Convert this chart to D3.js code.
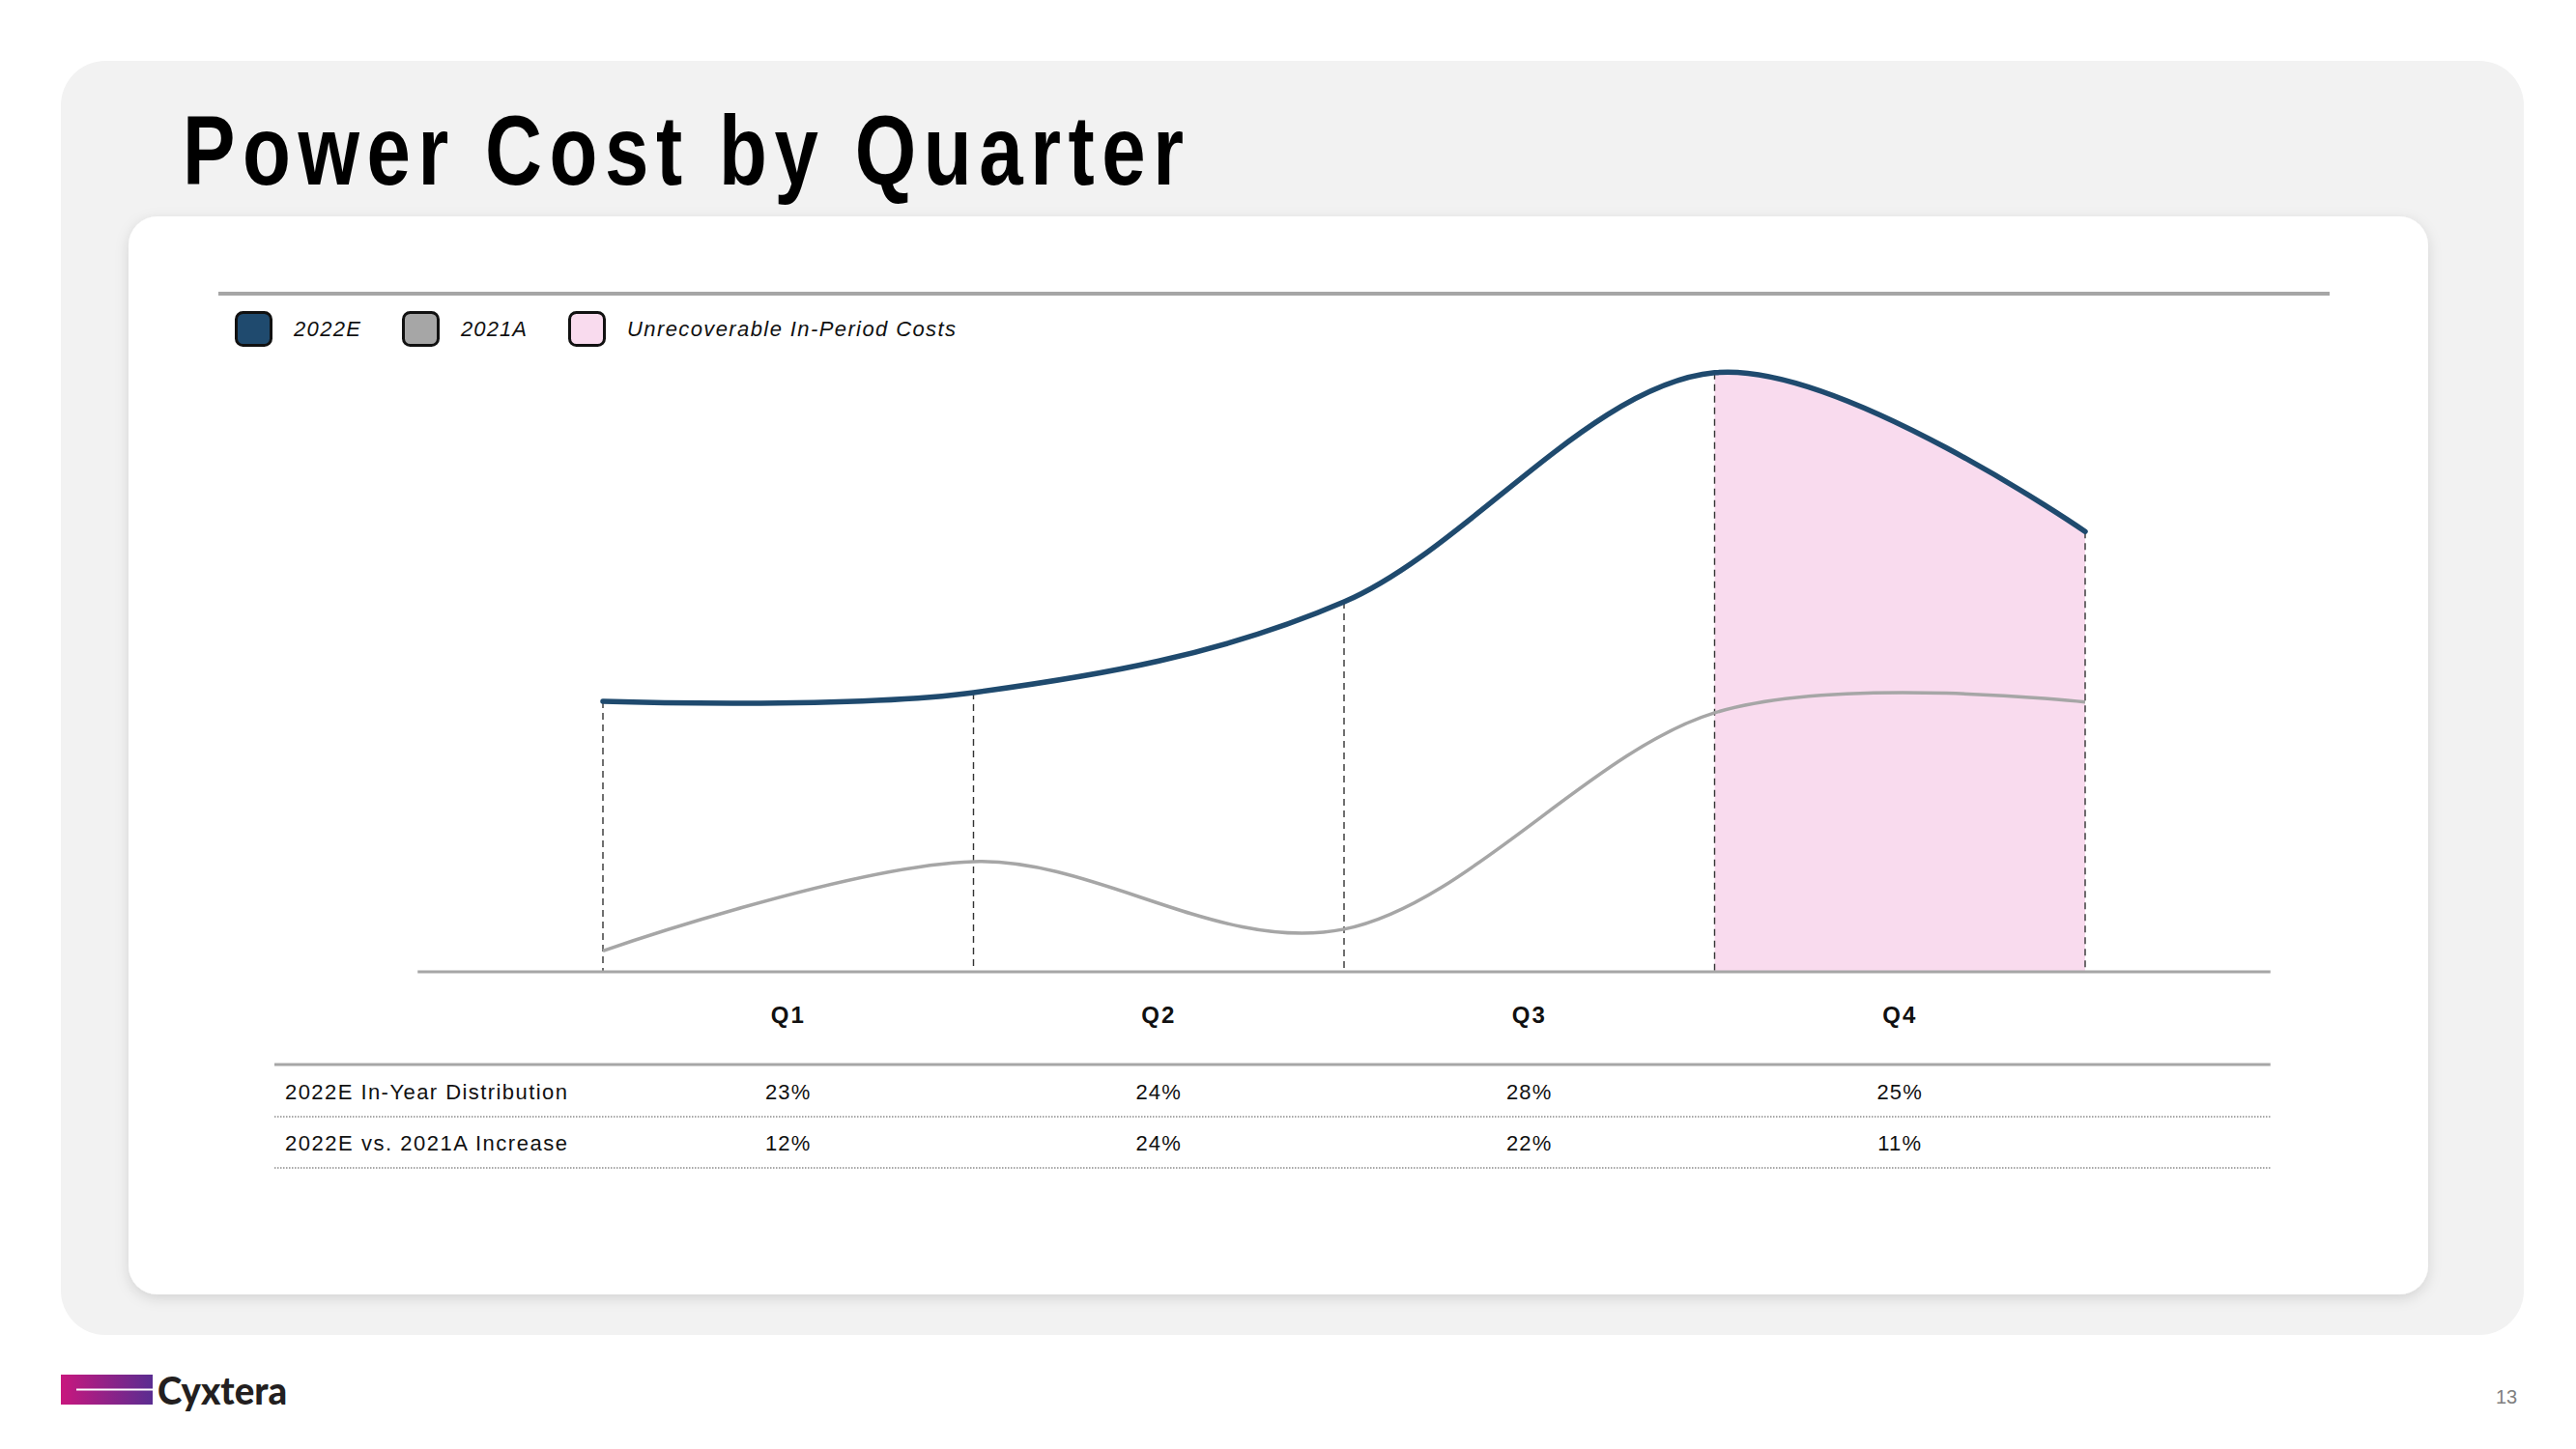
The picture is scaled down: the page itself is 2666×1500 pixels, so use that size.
<!DOCTYPE html>
<html><head><meta charset="utf-8">
<script src="https://cdn.jsdelivr.net/npm/d3@7"></script>
<style>
html,body{margin:0;padding:0;background:#fff;}
svg{display:block;}
text{font-family:"Liberation Sans",Arial,Helvetica,sans-serif;}
</style></head>
<body>
<svg id="chart" width="2666" height="1500"></svg>
<script>
// ---------------- data ----------------
const title = "Power Cost by Quarter";
const pointIndex = [0, 1, 2, 3, 4];               // quarter boundaries
const quarters = ["Q1", "Q2", "Q3", "Q4"];
const series2022E = [4.00, 4.13, 5.47, 8.86, 6.51];
const series2021A = [0.31, 1.63, 0.63, 3.83, 3.99];
const unrecoverableRange = [3, 4];                 // Q4 segment
const legendLabels = ["2022E", "2021A", "Unrecoverable In-Period Costs"];
const rowLabels = ["2022E In-Year Distribution", "2022E vs. 2021A Increase"];
const inYearDistribution = ["23%", "24%", "28%", "25%"];
const yoyIncrease = ["12%", "24%", "22%", "11%"];
const pageNumber = "13";
const brand = "Cyxtera";

// ---------------- style ----------------
const C = {navy:"#1f4a6e", gray:"#a6a6a6", pink:"#f9dbee", panel:"#f2f2f2"};

const svg = d3.select("#chart");
const defs = svg.append("defs");
const sh = defs.append("filter").attr("id","sh").attr("x","-5%").attr("y","-5%").attr("width","110%").attr("height","115%");
sh.append("feDropShadow").attr("dx",0).attr("dy",4).attr("stdDeviation",7).attr("flood-color","#000").attr("flood-opacity",0.13);
const grad = defs.append("linearGradient").attr("id","lg").attr("x1","0").attr("x2","1");
grad.append("stop").attr("offset","0").attr("stop-color","#c8177e");
grad.append("stop").attr("offset","1").attr("stop-color","#5a2d91");

// panels
svg.append("rect").attr("x",63).attr("y",63).attr("width",2549).attr("height",1319).attr("rx",46).attr("fill",C.panel);
svg.append("rect").attr("x",133).attr("y",224).attr("width",2380).attr("height",1116).attr("rx",30).attr("fill","#fff").attr("filter","url(#sh)");

// title
const sx = 0.8;
svg.append("text").attr("transform",`translate(189,191) scale(${sx},1)`)
  .attr("font-size",102).attr("font-weight","bold").attr("fill","#000")
  .attr("textLength",1036/sx).attr("lengthAdjust","spacing").text(title);

// top rule
svg.append("line").attr("x1",226).attr("x2",2411).attr("y1",304).attr("y2",304).attr("stroke",C.gray).attr("stroke-width",4);

// legend
const legendFill = [C.navy, C.gray, C.pink];
const legendX = [243, 416, 588];
const legendW = [69, 68, 340];
legendLabels.forEach((lab,i)=>{
  svg.append("rect").attr("x",legendX[i]+1.5).attr("y",323.5).attr("width",36).attr("height",34).attr("rx",7)
    .attr("fill",legendFill[i]).attr("stroke","#111").attr("stroke-width",3);
  svg.append("text").attr("x",legendX[i]+61).attr("y",348).attr("font-size",22).attr("font-style","italic")
    .attr("fill","#111").attr("textLength",legendW[i]).attr("lengthAdjust","spacing").text(lab);
});

// scales
const x = d3.scaleLinear().domain([0,4]).range([624,2158]);
const y = d3.scaleLinear().domain([0,10]).range([1006,306]);
const curve = d3.curveCardinal.tension(0);

// pink unrecoverable area
defs.append("clipPath").attr("id","clipQ4").append("rect")
  .attr("x",x(unrecoverableRange[0])).attr("y",0)
  .attr("width",x(unrecoverableRange[1])-x(unrecoverableRange[0])).attr("height",y(0));
svg.append("path").datum(series2022E)
  .attr("d",d3.area().x((d,i)=>x(pointIndex[i])).y0(y(0)).y1(d=>y(d)).curve(curve))
  .attr("fill",C.pink).attr("clip-path","url(#clipQ4)");

// dashed drop lines
svg.selectAll(".drop").data(series2022E).join("line").attr("class","drop")
  .attr("x1",(d,i)=>x(pointIndex[i])).attr("x2",(d,i)=>x(pointIndex[i]))
  .attr("y1",d=>y(d)).attr("y2",y(0))
  .attr("stroke","#333").attr("stroke-width",1.4).attr("stroke-dasharray","7,5");

// lines
const line = d3.line().x((d,i)=>x(pointIndex[i])).y(d=>y(d)).curve(curve);
svg.append("path").datum(series2021A).attr("d",line).attr("fill","none").attr("stroke",C.gray).attr("stroke-width",3.5);
svg.append("path").datum(series2022E).attr("d",line).attr("fill","none").attr("stroke",C.navy).attr("stroke-width",5.5).attr("stroke-linecap","round");

// baseline axis
svg.append("line").attr("x1",x(-0.5)).attr("x2",x(4.5)).attr("y1",y(0)).attr("y2",y(0)).attr("stroke",C.gray).attr("stroke-width",3);

// quarter labels
svg.selectAll(".ql").data(quarters).join("text").attr("class","ql")
  .attr("x",(d,i)=>x(i+0.5)).attr("y",1059).attr("text-anchor","middle")
  .attr("font-size",24).attr("font-weight","bold").attr("letter-spacing",2).attr("fill","#111").text(d=>d);

// table
const tableL = 284, tableR = x(4.5);
svg.append("line").attr("x1",tableL).attr("x2",tableR).attr("y1",1102).attr("y2",1102).attr("stroke",C.gray).attr("stroke-width",3);
const rows = [inYearDistribution, yoyIncrease];
const rowBase = [1138, 1191];
const rowLine = [1156, 1209];
rows.forEach((vals,r)=>{
  svg.append("text").attr("x",295).attr("y",rowBase[r]).attr("font-size",22).attr("fill","#111")
    .attr("textLength",292).attr("lengthAdjust","spacing").text(rowLabels[r]);
  vals.forEach((v,i)=>{
    svg.append("text").attr("x",x(i+0.5)).attr("y",rowBase[r]).attr("text-anchor","middle")
      .attr("font-size",22).attr("letter-spacing",1.2).attr("fill","#111").text(v);
  });
  svg.append("line").attr("x1",tableL).attr("x2",tableR).attr("y1",rowLine[r]).attr("y2",rowLine[r])
    .attr("stroke","#8c8c8c").attr("stroke-width",1.5).attr("stroke-dasharray","1.5,1.5");
});

// footer logo
svg.append("rect").attr("x",63).attr("y",1423).attr("width",95).attr("height",31).attr("fill","url(#lg)");
svg.append("line").attr("x1",79).attr("x2",158).attr("y1",1438.5).attr("y2",1438.5).attr("stroke","#fff").attr("stroke-width",2);
svg.append("text").attr("x",163).attr("y",1454).attr("font-size",39).attr("font-weight",900)
  .style("font-family","Lato, 'Open Sans', sans-serif").attr("fill","#231f20")
  .attr("textLength",134).attr("lengthAdjust","spacingAndGlyphs").text(brand);

// page number
svg.append("text").attr("x",2594).attr("y",1453).attr("text-anchor","middle").attr("font-size",20).attr("fill","#808080").text(pageNumber);
</script>
</body></html>
